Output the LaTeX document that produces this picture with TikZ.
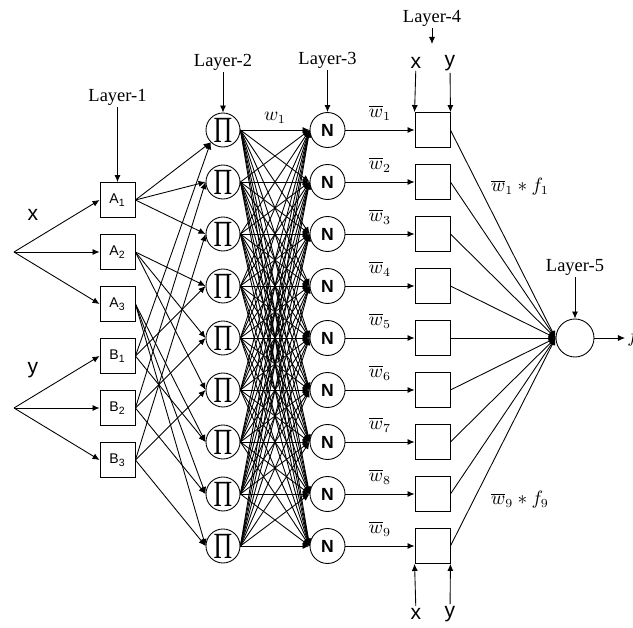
\documentclass[tikz,border=0pt]{standalone}
\usepackage{fontspec}
\setmainfont{Liberation Serif}
\setsansfont{Liberation Sans}
\newfontfamily\layerfont{Liberation Serif}
\usetikzlibrary{arrows.meta}
\begin{document}
\begin{tikzpicture}[x=0.02cm,y=-0.02cm,line width=0.5pt,
  >={Latex[length=4pt,width=3.5pt]},
  mf/.style={draw, minimum size=0.7cm, inner sep=0pt, font=\sffamily\footnotesize},
  rule/.style={draw, circle, minimum size=0.68cm, inner sep=0pt, font=\layerfont},
  norm/.style={draw, circle, minimum size=0.7cm, inner sep=0pt, font=\sffamily\bfseries},
  cons/.style={draw, minimum size=0.7cm, inner sep=0pt},
  sumn/.style={draw, circle, minimum size=0.76cm, inner sep=0pt},
  lab/.style={inner sep=1pt, font=\layerfont\fontsize{10.5}{12}\selectfont},
  inp/.style={inner sep=1pt, font=\sffamily\large}]
\useasboundingbox (0,0) rectangle (633,628);
% layer 1
\coordinate (x0) at (14,252);
\coordinate (y0) at (14,408);
\node[inp] (xl) at (33,215){x};
\node[inp] (yl) at (33,370){y};
\node[mf] (a1) at (117.5,200){A\textsubscript{1}};
\node[mf] (a2) at (117.5,252){A\textsubscript{2}};
\node[mf] (a3) at (117.5,304){A\textsubscript{3}};
\node[mf] (b1) at (117.5,356){B\textsubscript{1}};
\node[mf] (b2) at (117.5,408){B\textsubscript{2}};
\node[mf] (b3) at (117.5,460){B\textsubscript{3}};
\draw[->](x0) -- (a1.west);
\draw[->](x0) -- (a2.west);
\draw[->](x0) -- (a3.west);
\draw[->](y0) -- (b1.west);
\draw[->](y0) -- (b2.west);
\draw[->](y0) -- (b3.west);
\node[lab] (l1) at (117.5,97){Layer-1};
\draw[->](l1) -- (a1);
% layer 2
\node[rule] (p1) at (223,130){\scalebox{0.7}[1]{\fontsize{21}{21}\selectfont Π}};
\node[rule] (p2) at (223,182){\scalebox{0.7}[1]{\fontsize{21}{21}\selectfont Π}};
\node[rule] (p3) at (223,234){\scalebox{0.7}[1]{\fontsize{21}{21}\selectfont Π}};
\node[rule] (p4) at (223,286){\scalebox{0.7}[1]{\fontsize{21}{21}\selectfont Π}};
\node[rule] (p5) at (223,338){\scalebox{0.7}[1]{\fontsize{21}{21}\selectfont Π}};
\node[rule] (p6) at (223,390){\scalebox{0.7}[1]{\fontsize{21}{21}\selectfont Π}};
\node[rule] (p7) at (223,442){\scalebox{0.7}[1]{\fontsize{21}{21}\selectfont Π}};
\node[rule] (p8) at (223,494){\scalebox{0.7}[1]{\fontsize{21}{21}\selectfont Π}};
\node[rule] (p9) at (223,546){\scalebox{0.7}[1]{\fontsize{21}{21}\selectfont Π}};
\node[lab] (l2) at (223,62){Layer-2};
\draw[->](l2) -- (p1);
\draw[->](a1.east) -- (p1.south west);
\draw[->](a1.east) -- (p2.west);
\draw[->](a1.east) -- (p3.west);
\draw[->](a2.east) -- (p4.west);
\draw[->](a2.east) -- (p5.west);
\draw[->](a2.east) -- (p6.west);
\draw[->](a3.east) -- (p7.west);
\draw[->](a3.east) -- (p8.west);
\draw[->](a3.east) -- (p9.west);
\draw[->](b1.east) -- (p1.south west);
\draw[->](b1.east) -- (p4.west);
\draw[->](b1.east) -- (p7.west);
\draw[->](b2.east) -- (p2.west);
\draw[->](b2.east) -- (p5.west);
\draw[->](b2.east) -- (p8.west);
\draw[->](b3.east) -- (p3.west);
\draw[->](b3.east) -- (p6.west);
\draw[->](b3.east) -- (p9.west);
% layer 3
\node[norm] (n1) at (327.5,130){N};
\node[norm] (n2) at (327.5,182){N};
\node[norm] (n3) at (327.5,234){N};
\node[norm] (n4) at (327.5,286){N};
\node[norm] (n5) at (327.5,338){N};
\node[norm] (n6) at (327.5,390){N};
\node[norm] (n7) at (327.5,442){N};
\node[norm] (n8) at (327.5,494){N};
\node[norm] (n9) at (327.5,546){N};
\node[lab] (l3) at (327.5,60){Layer-3};
\draw[->](l3) -- (n1);
\node[lab] (w1) at (275,118){$w_1$};
\draw[->](p1.east) -- (n1.west);
\draw[->](p1.east) -- (n2.west);
\draw[->](p1.east) -- (n3.west);
\draw[->](p1.east) -- (n4.west);
\draw[->](p1.east) -- (n5.west);
\draw[->](p1.east) -- (n6.west);
\draw[->](p1.east) -- (n7.west);
\draw[->](p1.east) -- (n8.west);
\draw[->](p1.east) -- (n9.west);
\draw[->](p2.east) -- (n1.west);
\draw[->](p2.east) -- (n2.west);
\draw[->](p2.east) -- (n3.west);
\draw[->](p2.east) -- (n4.west);
\draw[->](p2.east) -- (n5.west);
\draw[->](p2.east) -- (n6.west);
\draw[->](p2.east) -- (n7.west);
\draw[->](p2.east) -- (n8.west);
\draw[->](p2.east) -- (n9.west);
\draw[->](p3.east) -- (n1.west);
\draw[->](p3.east) -- (n2.west);
\draw[->](p3.east) -- (n3.west);
\draw[->](p3.east) -- (n4.west);
\draw[->](p3.east) -- (n5.west);
\draw[->](p3.east) -- (n6.west);
\draw[->](p3.east) -- (n7.west);
\draw[->](p3.east) -- (n8.west);
\draw[->](p3.east) -- (n9.west);
\draw[->](p4.east) -- (n1.west);
\draw[->](p4.east) -- (n2.west);
\draw[->](p4.east) -- (n3.west);
\draw[->](p4.east) -- (n4.west);
\draw[->](p4.east) -- (n5.west);
\draw[->](p4.east) -- (n6.west);
\draw[->](p4.east) -- (n7.west);
\draw[->](p4.east) -- (n8.west);
\draw[->](p4.east) -- (n9.west);
\draw[->](p5.east) -- (n1.west);
\draw[->](p5.east) -- (n2.west);
\draw[->](p5.east) -- (n3.west);
\draw[->](p5.east) -- (n4.west);
\draw[->](p5.east) -- (n5.west);
\draw[->](p5.east) -- (n6.west);
\draw[->](p5.east) -- (n7.west);
\draw[->](p5.east) -- (n8.west);
\draw[->](p5.east) -- (n9.west);
\draw[->](p6.east) -- (n1.west);
\draw[->](p6.east) -- (n2.west);
\draw[->](p6.east) -- (n3.west);
\draw[->](p6.east) -- (n4.west);
\draw[->](p6.east) -- (n5.west);
\draw[->](p6.east) -- (n6.west);
\draw[->](p6.east) -- (n7.west);
\draw[->](p6.east) -- (n8.west);
\draw[->](p6.east) -- (n9.west);
\draw[->](p7.east) -- (n1.west);
\draw[->](p7.east) -- (n2.west);
\draw[->](p7.east) -- (n3.west);
\draw[->](p7.east) -- (n4.west);
\draw[->](p7.east) -- (n5.west);
\draw[->](p7.east) -- (n6.west);
\draw[->](p7.east) -- (n7.west);
\draw[->](p7.east) -- (n8.west);
\draw[->](p7.east) -- (n9.west);
\draw[->](p8.east) -- (n1.west);
\draw[->](p8.east) -- (n2.west);
\draw[->](p8.east) -- (n3.west);
\draw[->](p8.east) -- (n4.west);
\draw[->](p8.east) -- (n5.west);
\draw[->](p8.east) -- (n6.west);
\draw[->](p8.east) -- (n7.west);
\draw[->](p8.east) -- (n8.west);
\draw[->](p8.east) -- (n9.west);
\draw[->](p9.east) -- (n1.west);
\draw[->](p9.east) -- (n2.west);
\draw[->](p9.east) -- (n3.west);
\draw[->](p9.east) -- (n4.west);
\draw[->](p9.east) -- (n5.west);
\draw[->](p9.east) -- (n6.west);
\draw[->](p9.east) -- (n7.west);
\draw[->](p9.east) -- (n8.west);
\draw[->](p9.east) -- (n9.west);
% layer 4
\node[cons] (c1) at (432.5,130){};
\node[cons] (c2) at (432.5,182){};
\node[cons] (c3) at (432.5,234){};
\node[cons] (c4) at (432.5,286){};
\node[cons] (c5) at (432.5,338){};
\node[cons] (c6) at (432.5,390){};
\node[cons] (c7) at (432.5,442){};
\node[cons] (c8) at (432.5,494){};
\node[cons] (c9) at (432.5,546){};
\node[lab] (wb1) at (380,113){$\overline{w}_1$};
\node[lab] (wb2) at (380,165){$\overline{w}_2$};
\node[lab] (wb3) at (380,217){$\overline{w}_3$};
\node[lab] (wb4) at (380,269){$\overline{w}_4$};
\node[lab] (wb5) at (380,321){$\overline{w}_5$};
\node[lab] (wb6) at (380,373){$\overline{w}_6$};
\node[lab] (wb7) at (380,425){$\overline{w}_7$};
\node[lab] (wb8) at (380,477){$\overline{w}_8$};
\node[lab] (wb9) at (380,529){$\overline{w}_9$};
\draw[->](n1) -- (c1);
\draw[->](n2) -- (c2);
\draw[->](n3) -- (c3);
\draw[->](n4) -- (c4);
\draw[->](n5) -- (c5);
\draw[->](n6) -- (c6);
\draw[->](n7) -- (c7);
\draw[->](n8) -- (c8);
\draw[->](n9) -- (c9);
\node[lab] (l4) at (432,18){Layer-4};
\coordinate (l4tip) at (432,44);
\draw[->](l4) -- (l4tip);
\node[inp] (xt) at (416,63){x};
\node[inp] (yt) at (450,63){y};
\draw[->](xt) -- (c1.north west);
\draw[->](yt) -- (c1.north east);
\node[inp] (xb) at (416,614){x};
\node[inp] (yb) at (450,614){y};
\draw[->](xb) -- (c9.south west);
\draw[->](yb) -- (c9.south east);
% layer 5
\node[sumn] (o) at (575,338){};
\node[lab] (l5) at (575,267){Layer-5};
\draw[->](l5) -- (o);
\node[lab] (wf1) at (520,187){$\overline{w}_1 * f_1$};
\node[lab] (wf9) at (520,500){$\overline{w}_9 * f_9$};
\draw[->](c1.east) -- (o.west);
\draw[->](c2.east) -- (o.west);
\draw[->](c3.east) -- (o.west);
\draw[->](c4.east) -- (o.west);
\draw[->](c5.east) -- (o.west);
\draw[->](c6.east) -- (o.west);
\draw[->](c7.east) -- (o.west);
\draw[->](c8.east) -- (o.west);
\draw[->](c9.east) -- (o.west);
\coordinate (otip) at (625,338);
\draw[->](o) -- (otip);
\node[lab, anchor=west, inner sep=0pt] (f) at (627,338){$f$};
\end{tikzpicture}
\end{document}
